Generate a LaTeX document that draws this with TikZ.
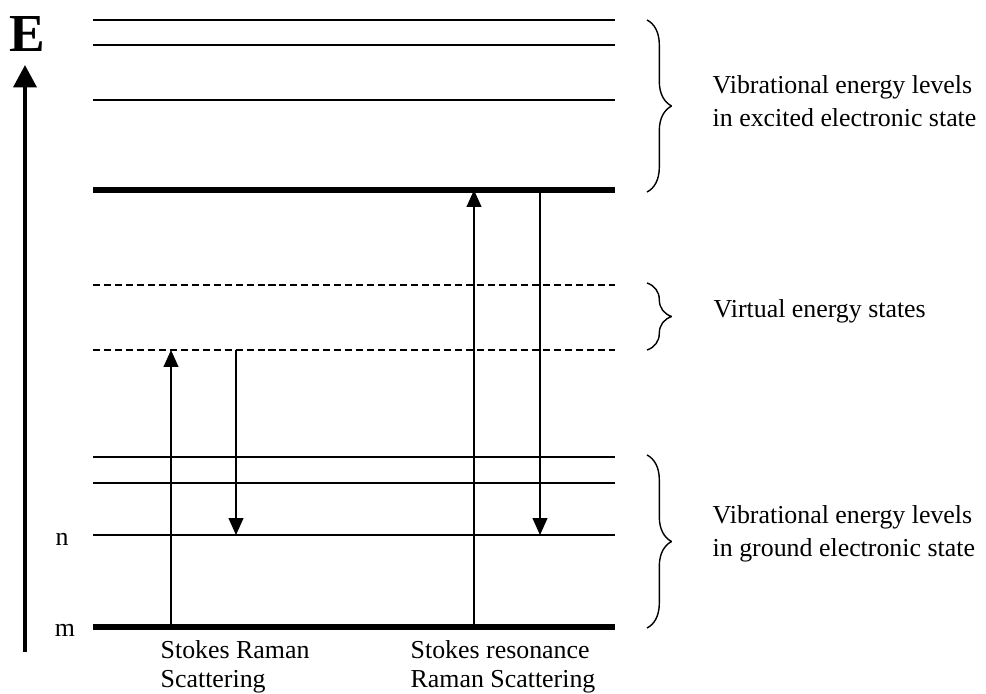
\documentclass[tikz,border=0pt]{standalone}
\usepackage{fontspec}
\setmainfont{Liberation Serif}
\usetikzlibrary{arrows.meta, decorations.pathreplacing, positioning}

\begin{document}
\begin{tikzpicture}[x=0.025cm, y=-0.025cm, line join=bevel, line width=1pt,
  font=\fontsize{18.4}{23.4}\selectfont,
  lvl/.style={line width=1pt},
  bold lvl/.style={line width=4.6pt},
  virt/.style={line width=.8pt, dash pattern=on 5pt off 2.8pt},
  trans/.style={line width=1pt, -{Triangle[length=12pt, width=10.5pt]}},
  axis/.style={line width=3.5pt, -{Triangle[length=16pt, width=16pt]}},
  brc/.style={decorate, decoration={brace, amplitude=17.5pt}, line width=1pt},
  txt/.style={inner sep=0pt, anchor=west, align=left}]
\useasboundingbox (0,0) rectangle (986,693);

\draw[bold lvl] (93,627) coordinate (g0) -- (615,627);
\draw[lvl] (93,535) coordinate (g1) -- (615,535);
\foreach \y in {483,457} \draw[lvl] (93,\y) -- (615,\y);
\draw[virt] (93,350) coordinate (v0) -- (615,350);
\draw[virt] (93,285) -- (615,285);
\draw[bold lvl] (93,190) coordinate (e0) -- (615,190);
\foreach \y in {100,45,20} \draw[lvl] (93,\y) -- (615,\y);

\node[inner sep=0pt] (n) at (62,539) {n};
\node[inner sep=0pt] (m) at (65,630) {m};

\node[inner sep=0pt, font=\fontsize{38}{38}\selectfont\bfseries] (E) at (27,34) {E};
\coordinate (a0) at (25,652);
\draw[axis, shorten >=9pt] (a0) -- (a0|-E.south);

\coordinate (s1) at (171,0);
\coordinate (s2) at (236,0);
\coordinate (r1) at (474,0);
\coordinate (r2) at (540,0);
\draw[trans] (s1|-g0) -- (s1|-v0);
\draw[trans] (s2|-v0) -- (s2|-g1);
\draw[trans] (r1|-g0) -- (r1|-e0);
\draw[trans] (r2|-e0) -- (r2|-g1);

\draw[brc] (647,20) coordinate (b1) -- (647,192) coordinate (b2);
\draw[brc] (647,283) coordinate (b3) -- (647,350) coordinate (b4);
\draw[brc] (647,455) coordinate (b5) -- (647,628) coordinate (b6);

\node[txt] (exc) at (712,101) {Vibrational energy levels\\in excited electronic state};
\node[txt, anchor=base west] (vir) at (713,317) {Virtual energy states};
\node[txt] (gnd) at (712,534) {Vibrational energy levels\\in ground electronic state};

\node[txt, font=\fontsize{18.4}{21}\selectfont] (sr) at (160,667) {Stokes Raman\\Scattering};
\node[txt, font=\fontsize{18.4}{21}\selectfont] (srr) at (410,667) {Stokes resonance\\Raman Scattering};
\end{tikzpicture}
\end{document}
